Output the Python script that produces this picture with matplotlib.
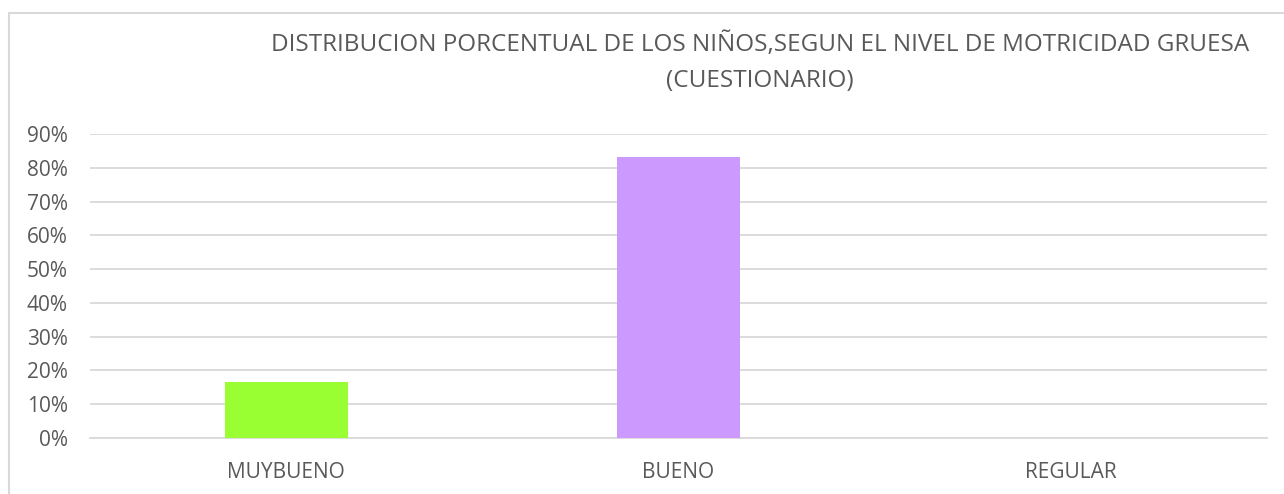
import matplotlib
matplotlib.use("Agg")
import matplotlib.pyplot as plt
from matplotlib.patches import Rectangle
from matplotlib.ticker import FuncFormatter, MultipleLocator

categories = ["MUYBUENO", "BUENO", "REGULAR"]
values = [0.1667, 0.8333, 0.0]
bar_colors = ["#99FF33", "#CC99FF", "#A5A5A5"]
title = "DISTRIBUCION PORCENTUAL DE LOS NIÑOS,SEGUN EL NIVEL DE MOTRICIDAD GRUESA\n(CUESTIONARIO)"

plt.rcParams['font.family'] = ['Open Sans', 'DejaVu Sans']
text_color = "#595959"

W, H = 1284, 494
fig = plt.figure(figsize=(W / 100, H / 100), dpi=100)
fig.patch.set_facecolor("white")

# chart border
fig.patches.append(Rectangle((8.5 / W, -0.1), 1.2, 1 - 12.5 / H + 0.1,
                             transform=fig.transFigure, fill=False,
                             edgecolor="#D9D9D9", linewidth=1.5))

ax = fig.add_axes([90 / W, 1 - 438 / H, (1267 - 90) / W, (438 - 134) / H])
x = range(len(categories))
ax.bar(x, values, width=0.314, color=bar_colors, zorder=3)
ax.set_xlim(-0.5, 2.5)
ax.set_ylim(0, 0.9)
ax.yaxis.set_major_locator(MultipleLocator(0.1))
ax.yaxis.set_major_formatter(FuncFormatter(lambda v, p: f"{round(v * 100)}%"))
ax.set_xticks(list(x))
ax.set_xticklabels(categories)
ax.grid(axis="y", color="#D9D9D9", linewidth=1.3, zorder=0)
for s in ["top", "right", "left"]:
    ax.spines[s].set_visible(False)
ax.spines["bottom"].set_color("#D9D9D9")
ax.spines["bottom"].set_linewidth(1.3)
ax.tick_params(axis="both", length=0, colors=text_color, labelsize=15)
ax.tick_params(axis="y", pad=16)
ax.tick_params(axis="x", pad=17)

fig.text(760 / W, 1 - 63 / H, title, ha="center", va="center",
         fontsize=17.5, color=text_color, linespacing=1.65)

fig.savefig("out.png", dpi=100, facecolor="white")
